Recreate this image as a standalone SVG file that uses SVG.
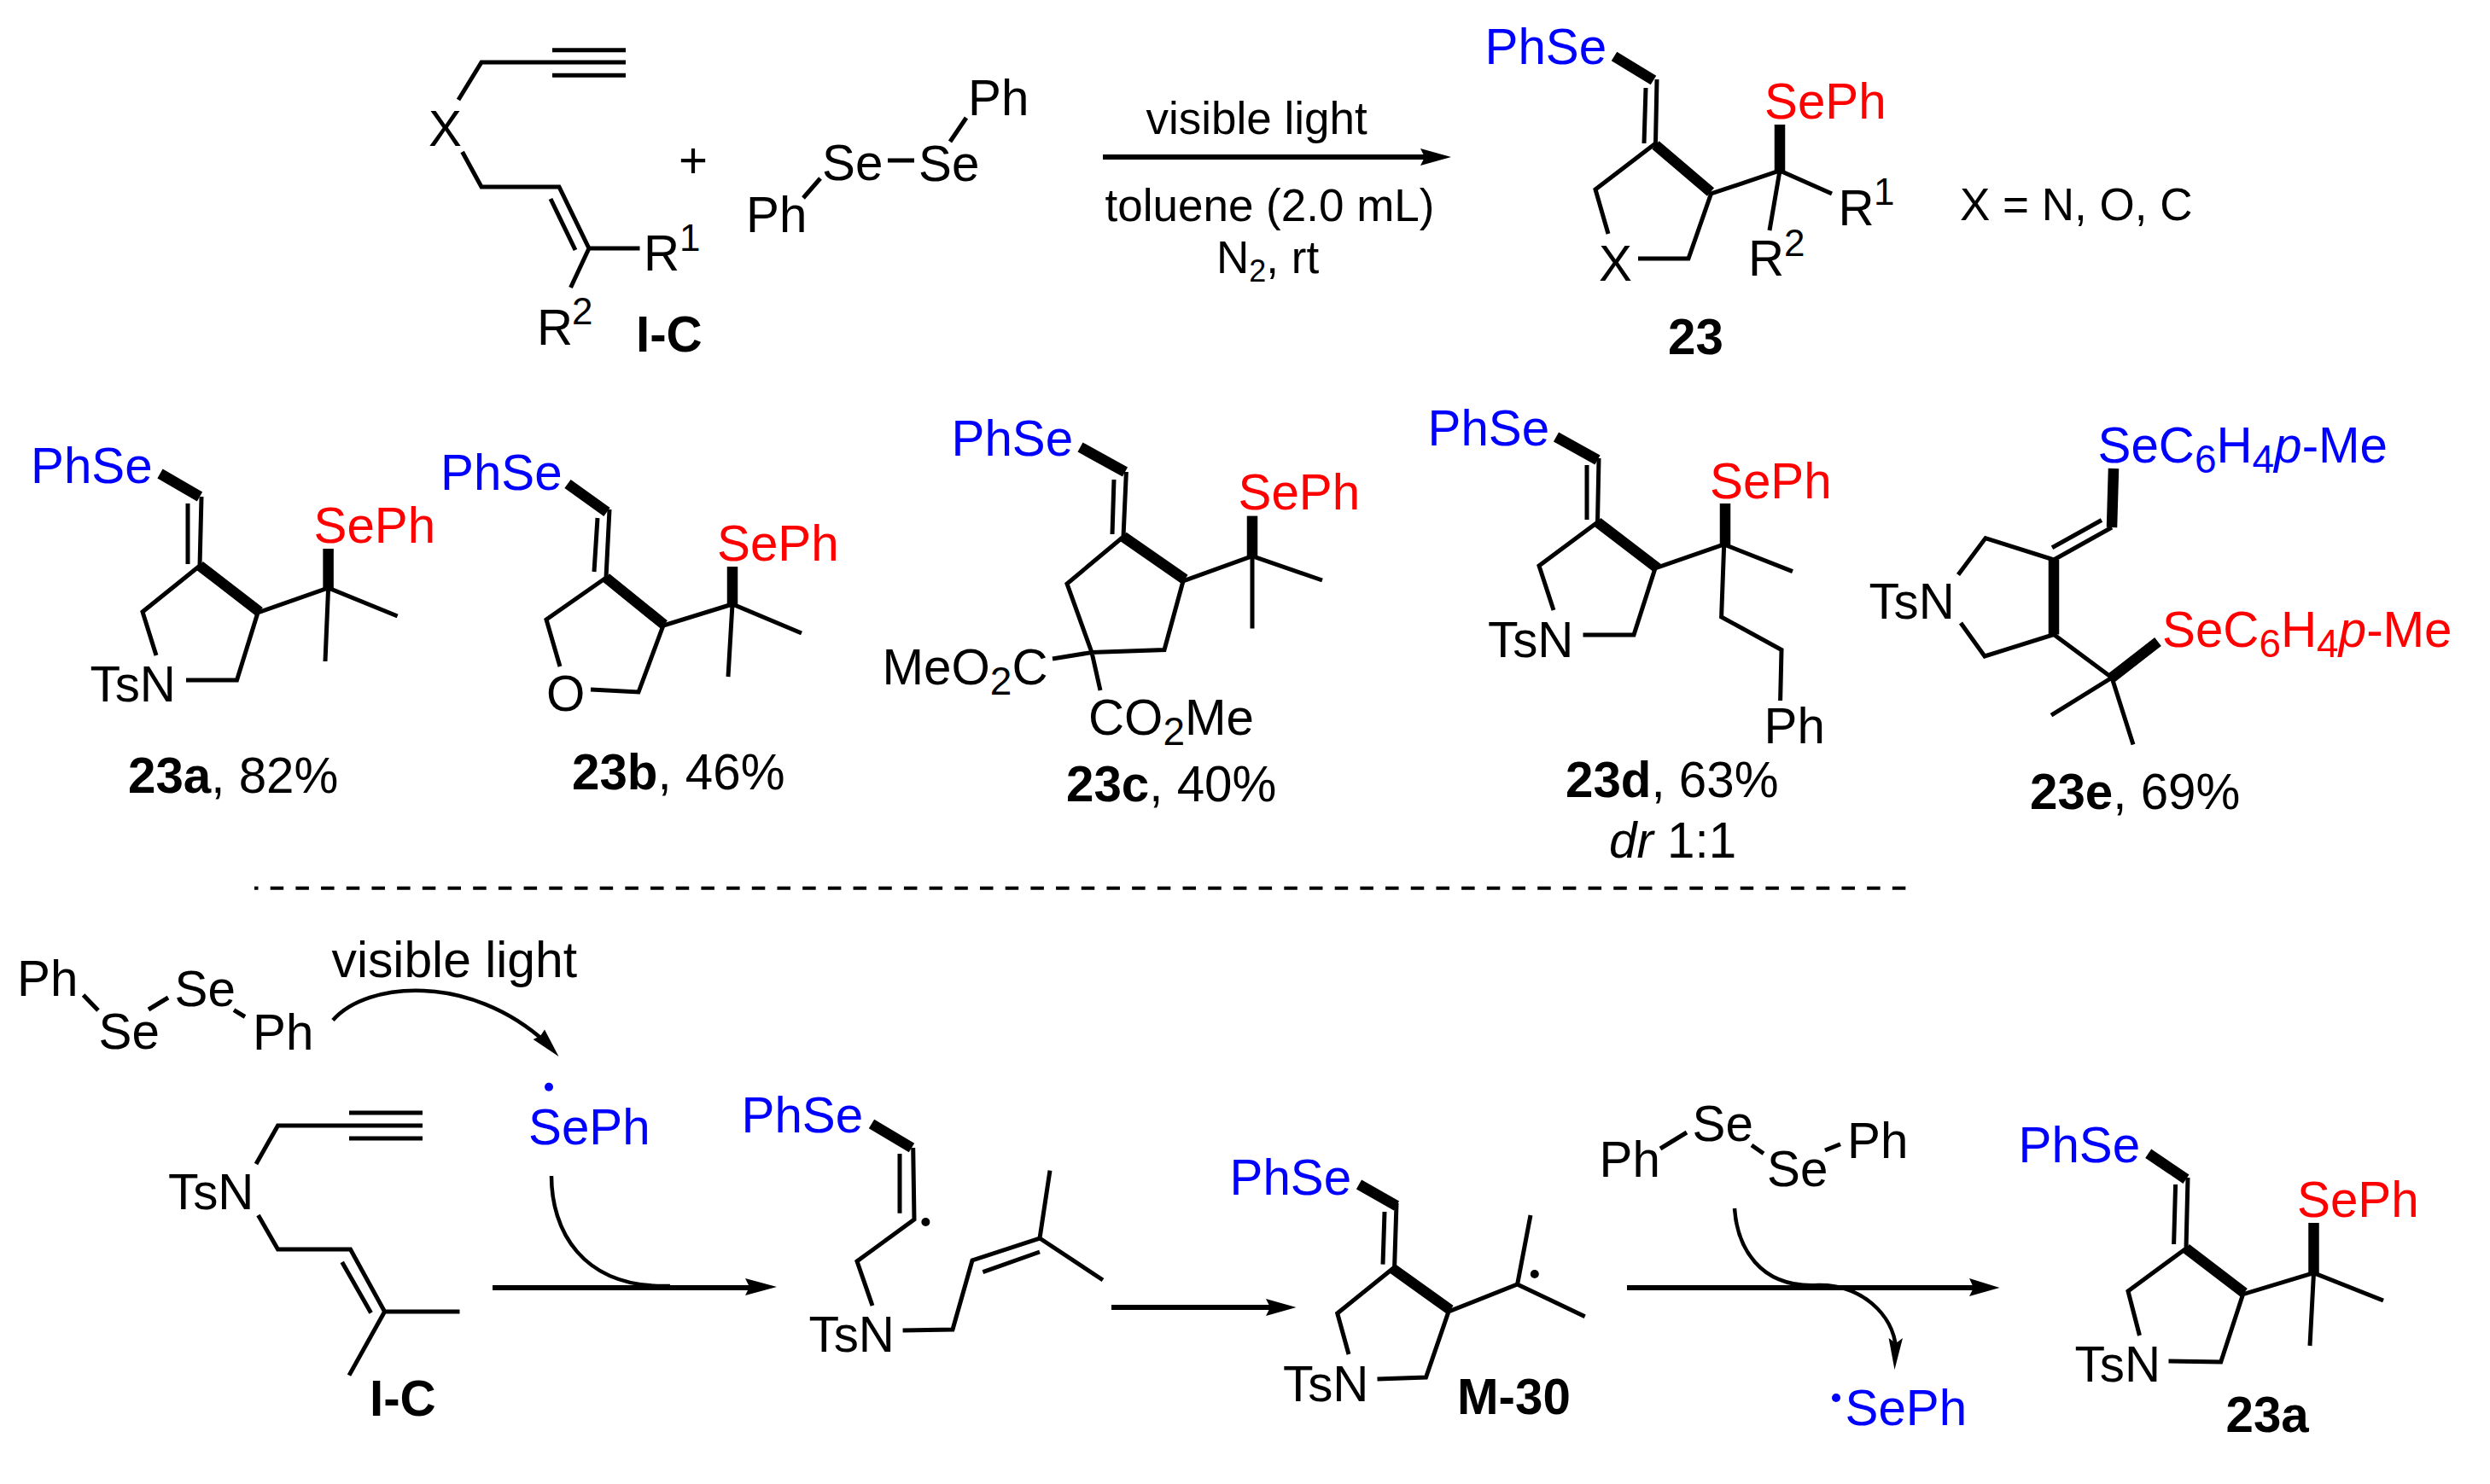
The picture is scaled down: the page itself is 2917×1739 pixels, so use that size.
<svg xmlns="http://www.w3.org/2000/svg" width="2917" height="1739" viewBox="0 0 2917 1739">
<defs>
<style>
text{font-family:"Liberation Sans",Arial,sans-serif;font-size:58.3px;fill:#000;transform:translate(0,1.5px)}
.b{font-weight:700}
.c{font-size:53px}
.blue{fill:#0000ff}
.red{fill:#ff0000}
.i{font-style:italic}
.s{font-size:46px}
.sup{font-size:44px}
.bond{fill:none;stroke:#000;stroke-width:5;stroke-linejoin:miter;stroke-linecap:butt}
.thick{fill:none;stroke:#000;stroke-width:12.5;stroke-linecap:butt}
.arrow{fill:none;stroke:#000;stroke-width:6}
.curve{fill:none;stroke:#000;stroke-width:4.5}
.dash{fill:none;stroke:#000;stroke-width:4;stroke-dasharray:15.5 14.19;stroke-dashoffset:11}
</style>
</defs>
<rect width="2917" height="1739" fill="#fff"/>
<g id="connectors">
<path class="arrow" d="M1292,184H1672"/><path d="M1700,184L1664,174L1669,184L1664,194Z"/>
<path class="arrow" d="M577,1509H880"/><path d="M910,1508L873,1498L878,1508L873,1518Z"/>
<path class="arrow" d="M1302,1532H1490"/><path d="M1518.5,1532L1483,1522L1488,1532L1483,1542Z"/>
<path class="arrow" d="M1906,1509H2315"/><path d="M2342.5,1509L2307,1498L2312,1509L2307,1519Z"/>
<path class="curve" d="M390,1195.5C430,1150 550,1140 640,1222"/><path d="M654.5,1238L624.6,1218L633,1214L638,1206.5Z"/>
<path class="curve" d="M646,1378C646,1440 680,1510 785,1507"/>
<path class="curve" d="M2032,1416C2035,1460 2060,1510 2130,1506C2180,1505 2218,1540 2221,1580"/><path d="M2219.5,1605L2212.6,1568L2221,1574L2229,1568Z"/>
<path class="dash" d="M298,1040.7H2233"/>
</g>
<g id="node-IC">
<path class="bond" d="M537,117L564,73H733M647,58.7H733M647,88.3H733M541.6,178L564,219H655L690,291H749.5M645,233L674,293M690,291L668.5,337"/>
<text x="502" y="169">X</text>
<text x="754" y="315">R</text><text class="sup" x="796" y="292">1</text>
<text x="629" y="402">R</text><text class="sup" x="670" y="378">2</text>
<text class="b" x="745" y="410">I-C</text>
</g>
<g id="node-plus"><text x="795" y="206">+</text></g>
<g id="node-diselenide">
<path class="bond" d="M1040,188H1071M961,209L941,232M1132,138L1113,166"/>
<text x="963" y="209">Se</text><text x="1076" y="210">Se</text>
<text x="1134" y="133">Ph</text><text x="874" y="270">Ph</text>
</g>
<g id="node-conditions">
<text class="c" x="1342.5" y="155">visible light</text>
<text class="c" x="1294.5" y="257">toluene (2.0 mL)</text>
<text class="c" x="1425" y="318">N<tspan dy="10" style="font-size:36px">2</tspan><tspan dy="-10">, rt</tspan></text>
</g>
<g id="node-23">
<path class="thick" d="M1891,66L1937,94M1939.5,170L2004,225"/>
<path class="thick" d="M2085,200V146"/>
<path class="bond" d="M1941,93L1939.5,168L1869,222L1884,274M1928,103L1926,168M1919,303H1978L2004.5,227L2085,200L2146,227M2085,200L2073,270"/>
<text class="blue" x="1739.5" y="73">PhSe</text>
<text class="red" x="2067" y="137">SePh</text>
<text x="1873" y="327">X</text>
<text x="2153.5" y="262">R</text><text class="sup" x="2195" y="238">1</text>
<text x="2048" y="321">R</text><text class="sup" x="2090" y="298">2</text>
<text class="b" x="1954" y="413">23</text>
</g>
<g id="node-legend"><text class="c" x="2296" y="256">X = N, O, C</text></g>
<g id="node-23a">
<path class="thick" d="M187.5,555L234,582M234,663L304,717"/>
<path class="thick" d="M384.6,689V643"/>
<path class="bond" d="M236,582L234,663L167,717L183,768M220,590V661M218,797H277.5L302,718L384.6,689L465.6,722M384.6,689L381,775"/>
<text class="blue" x="36" y="564">PhSe</text>
<text class="red" x="367.5" y="634">SePh</text>
<text x="105.5" y="820">TsN</text>
<text x="150" y="927"><tspan class="b">23a</tspan>, 82%</text>
</g>
<g id="node-23b">
<path class="thick" d="M665,567L711,600M710,677L778,732"/>
<path class="thick" d="M858,708V664"/>
<path class="bond" d="M714,597L710,677L640,726L656,781M700,607L696,670M692,808L748,811L777,733L858,708L939,742M858,708L853,793"/>
<text class="blue" x="516" y="572">PhSe</text>
<text class="red" x="840" y="655">SePh</text>
<text x="640" y="831">O</text>
<text x="670" y="923"><tspan class="b">23b</tspan>, 46%</text>
</g>
<g id="node-23c">
<path class="thick" d="M1265.5,524L1318,553M1316,629L1388,679"/>
<path class="thick" d="M1467,652V604.6"/>
<path class="bond" d="M1319.4,553L1316,629L1250,684L1279,764.5L1364,761.5L1386,681L1467,651.6L1549,680M1305,562L1303,626M1467,652V736.6M1279,764.5L1233,772M1279,764.5L1289,809"/>
<text class="blue" x="1114.5" y="532.6">PhSe</text>
<text class="red" x="1450.5" y="595">SePh</text>
<text x="1033.5" y="800">MeO<tspan class="s" dy="12">2</tspan><tspan dy="-12">C</tspan></text>
<text x="1275" y="859">CO<tspan class="s" dy="12">2</tspan><tspan dy="-12">Me</tspan></text>
<text x="1249" y="937.5"><tspan class="b">23c</tspan>, 40%</text>
</g>
<g id="node-23d">
<path class="thick" d="M1823,512L1871.5,539M1871.5,612L1942,666"/>
<path class="thick" d="M2021,638V590"/>
<path class="bond" d="M1873,537L1871.5,612L1803,663L1820,715M1859,545V609M1854.5,744H1914L1939,666L2019.7,638L2100,669.6M2019.7,638L2016.6,723L2087,761.5L2085.6,821"/>
<text class="blue" x="1672.5" y="520">PhSe</text>
<text class="red" x="2003" y="582">SePh</text>
<text x="1743" y="768">TsN</text>
<text x="2066.5" y="869.4">Ph</text>
<text x="1834" y="932.5"><tspan class="b">23d</tspan>, 63%</text>
<text x="1885" y="1003"><tspan class="i">dr</tspan> 1:1</text>
</g>
<g id="node-23e">
<path class="thick" d="M2476,549L2474,618M2406,656V743.5M2474,794L2528,752"/>
<path class="bond" d="M2474,618L2406,656L2326,630.6L2294,673.5M2462,609.5L2404,641.7M2297,730L2325,769L2406,743.5L2474,794L2403,838M2474,794L2499,872.5"/>
<text class="blue" x="2457.5" y="540">SeC<tspan class="s" dy="12">6</tspan><tspan dy="-12">H</tspan><tspan class="s" dy="12">4</tspan><tspan class="i" dy="-12">p</tspan>-Me</text>
<text class="red" x="2533" y="756.5">SeC<tspan class="s" dy="12">6</tspan><tspan dy="-12">H</tspan><tspan class="s" dy="12">4</tspan><tspan class="i" dy="-12">p</tspan>-Me</text>
<text x="2189.4" y="723">TsN</text>
<text x="2378" y="946"><tspan class="b">23e</tspan>, 69%</text>
</g>
<g id="node-mech-diselenide">
<path class="bond" d="M97.6,1166L115,1184M174,1183L197,1169M274,1183.6L287,1191.5"/>
<text x="20" y="1165">Ph</text><text x="115.5" y="1227">Se</text><text x="204.5" y="1177.6">Se</text><text x="296" y="1228">Ph</text>
<text style="font-size:58.8px" x="388.5" y="1143">visible light</text>
</g>
<g id="node-mech-radical">
<circle style="fill:#0000ff" cx="643" cy="1273.7" r="5"/>
<text class="blue" x="619" y="1339.7">SePh</text>
</g>
<g id="node-mech-IC">
<path class="bond" d="M300,1364L325.5,1319H495M409,1304H495M409,1334H495M302.5,1424L325.5,1464H410.5L450.6,1537H538.5M400.7,1479L434.6,1538.5M450.6,1537L409,1611.6"/>
<text x="197" y="1415">TsN</text>
<text class="b" x="433" y="1657">I-C</text>
</g>
<g id="node-mech-vinyl">
<path class="thick" d="M1021,1317L1068,1345"/>
<path class="bond" d="M1069.7,1345L1071,1429L1004,1478L1022,1530M1054,1352V1421.7M1057.6,1559L1116,1558L1139,1477L1218,1451L1230,1371.7M1151.4,1490.7L1218,1467M1218,1451L1292,1500"/>
<circle cx="1084.4" cy="1432" r="5"/>
<text class="blue" x="868.5" y="1325.7">PhSe</text>
<text x="947.5" y="1582">TsN</text>
</g>
<g id="node-M30">
<path class="thick" d="M1592,1388L1636,1413M1632,1487L1699,1535"/>
<path class="bond" d="M1636,1410L1633.6,1485L1566.7,1539L1580,1587M1622,1420L1620,1481.7M1613.5,1616L1670.5,1614L1697,1537L1777.6,1505L1856.7,1542.7M1777.6,1505L1793,1424"/>
<circle cx="1797.8" cy="1493" r="5"/>
<text class="blue" x="1440.5" y="1398">PhSe</text>
<text x="1503" y="1640">TsN</text>
<text class="b" x="1707" y="1655.7">M-30</text>
</g>
<g id="node-mech-diselenide2">
<path class="bond" d="M1945,1346L1976,1327M2052,1342L2066,1351.7M2138,1348L2156,1340.7"/>
<text x="1873.5" y="1377.7">Ph</text><text x="1982.5" y="1335.7">Se</text><text x="2070" y="1388">Se</text><text x="2164" y="1355">Ph</text>
</g>
<g id="node-mech-radical2">
<circle style="fill:#0000ff" cx="2151" cy="1638" r="5"/>
<text class="blue" x="2161.5" y="1668">SePh</text>
</g>
<g id="node-mech-23a">
<path class="thick" d="M2516.7,1351.7L2561,1381.7M2561,1463L2629,1515"/>
<path class="thick" d="M2710.5,1491.7V1433"/>
<path class="bond" d="M2563,1380L2561,1463L2493,1513L2506.5,1565M2548.6,1388L2546.6,1458M2540.5,1595L2601.7,1596L2627.6,1516.7L2710.5,1491.7L2792,1524M2710.5,1491.7L2706,1577"/>
<text class="blue" x="2364.5" y="1360">PhSe</text>
<text class="red" x="2691" y="1424">SePh</text>
<text x="2430.6" y="1617">TsN</text>
<text class="b" x="2607.5" y="1676.7">23a</text>
</g>
</svg>
